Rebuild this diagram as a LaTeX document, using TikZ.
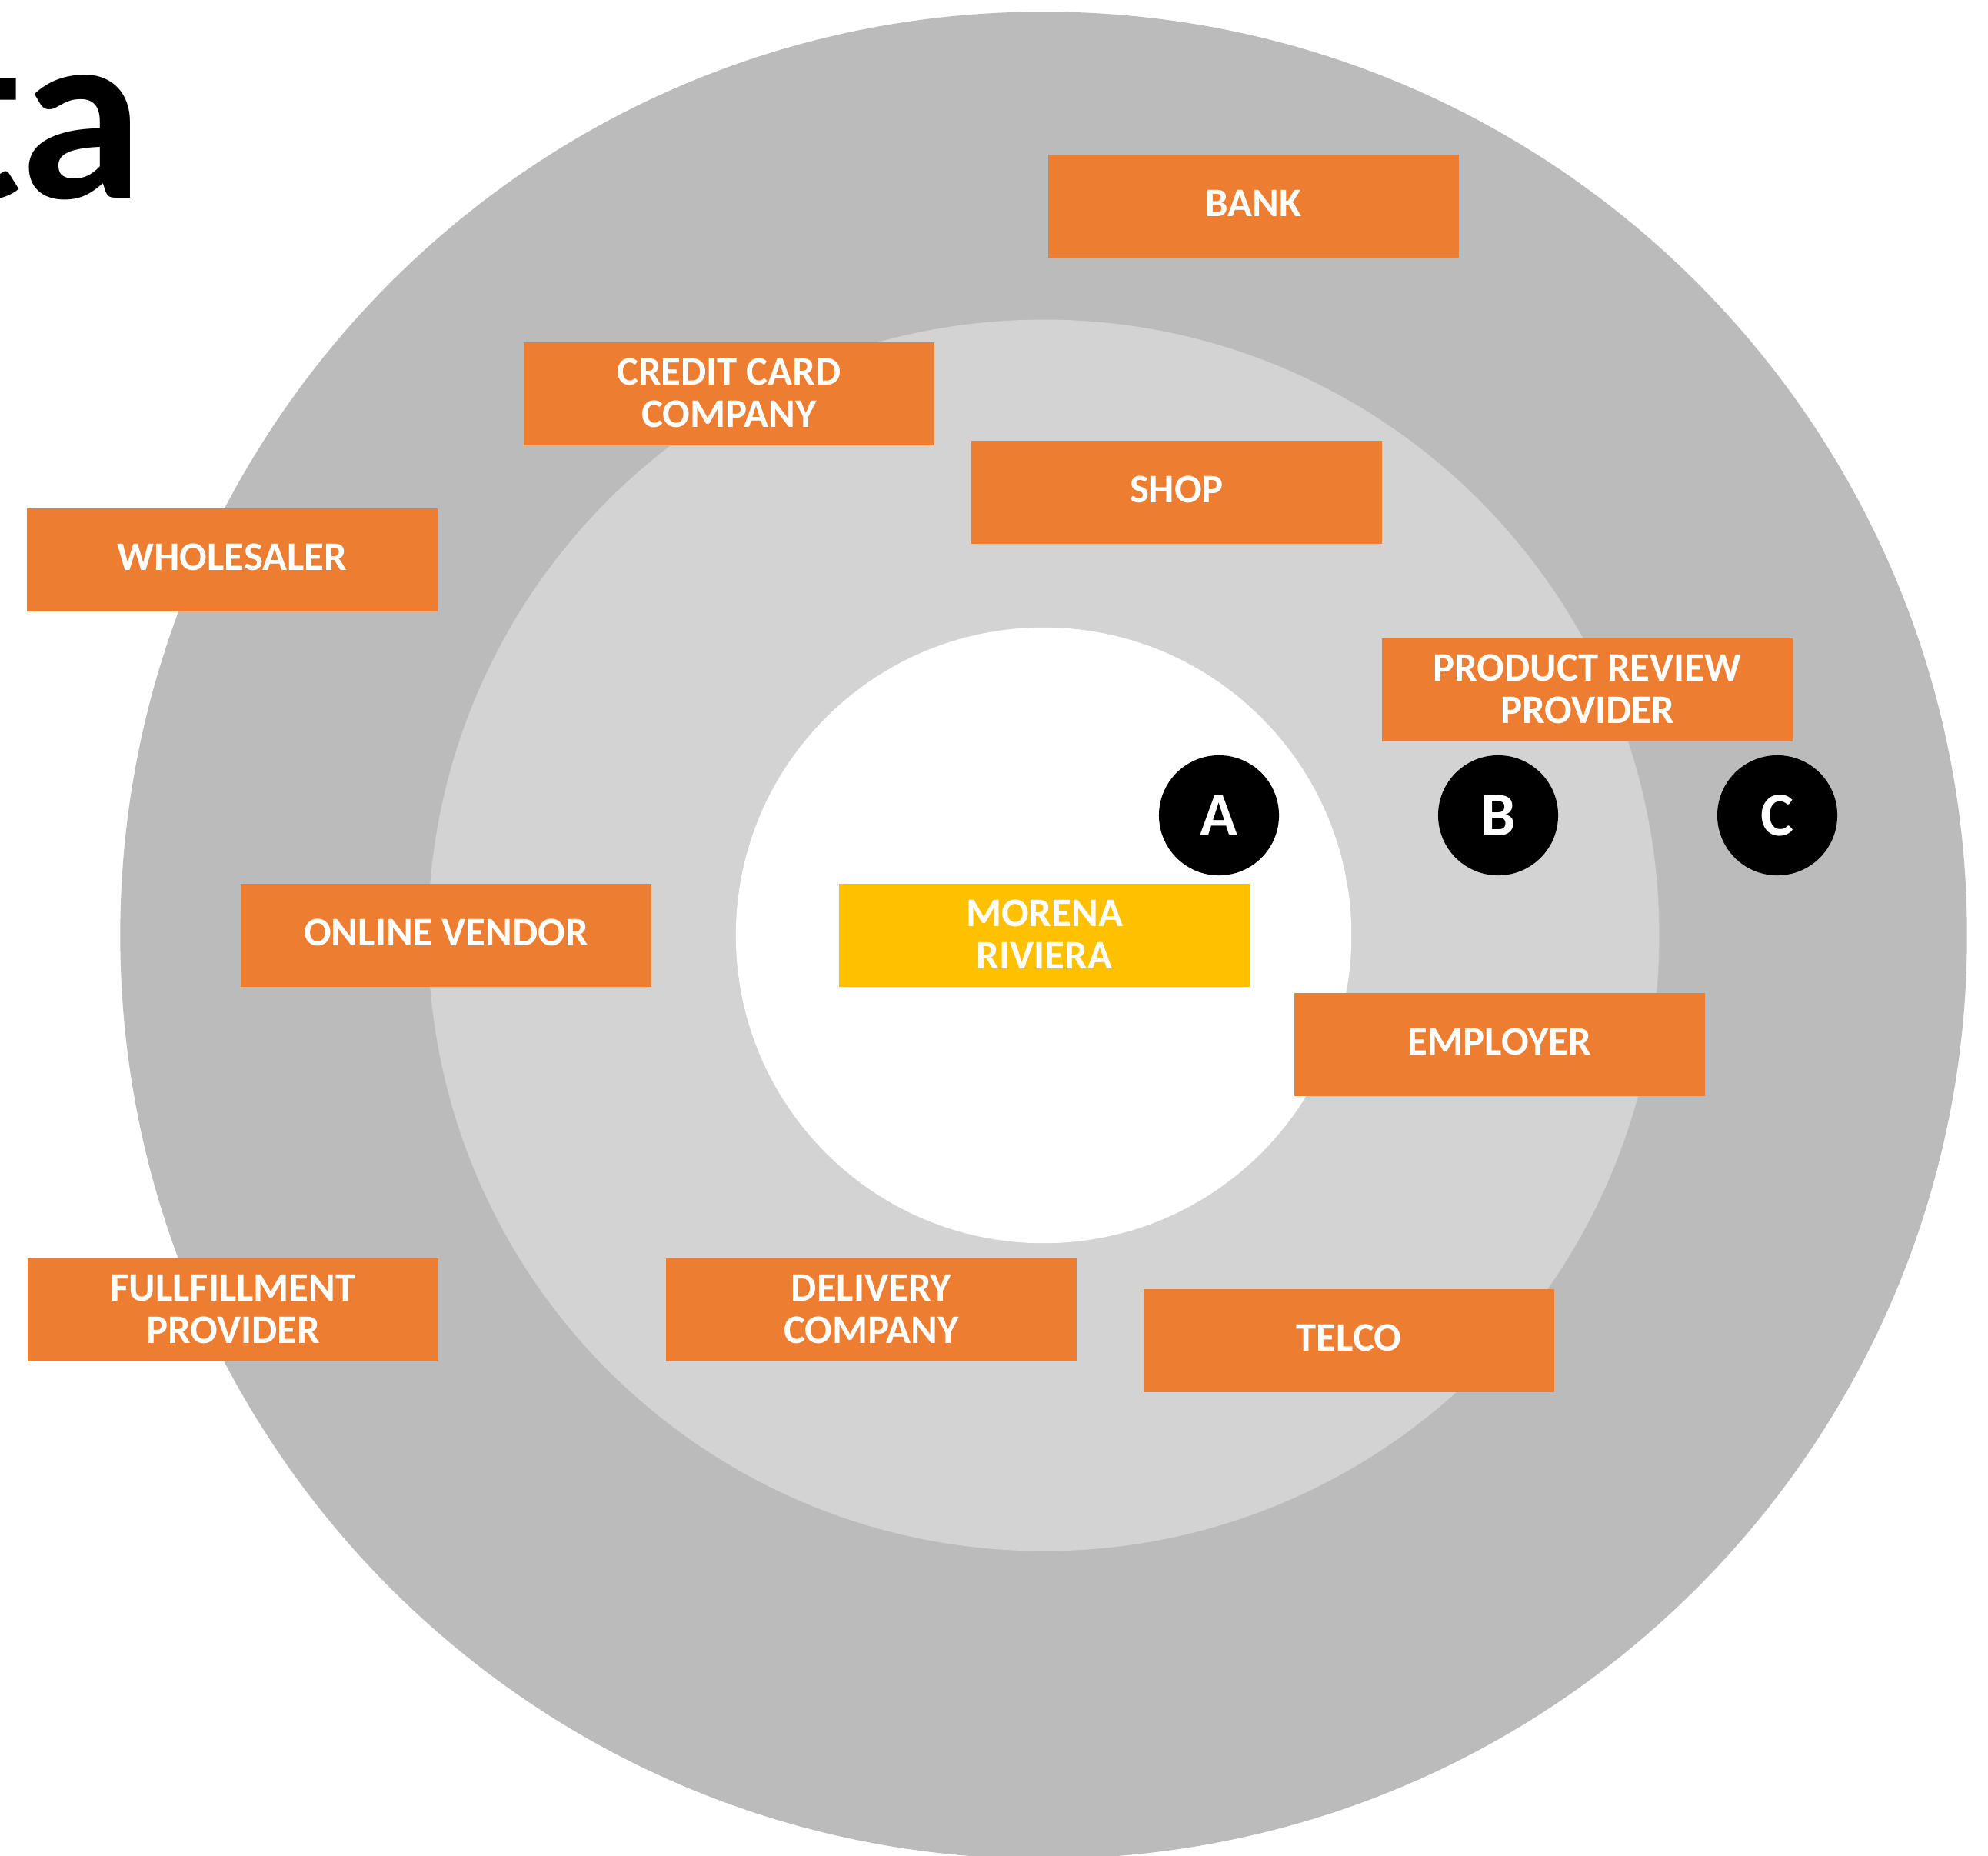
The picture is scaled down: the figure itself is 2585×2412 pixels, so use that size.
\documentclass[tikz,border=0pt]{standalone}
\usepackage{fontspec}
\setmainfont{Carlito}
\definecolor{ringouter}{RGB}{187,187,187}
\definecolor{ringmid}{RGB}{211,211,211}
\definecolor{actor}{RGB}{237,125,49}
\definecolor{subject}{RGB}{255,192,0}
\begin{document}
\begin{tikzpicture}[x=0.01cm,y=-0.01cm,
  actorbox/.style={fill=actor, minimum width=5.34cm, minimum height=1.34cm,
    inner sep=0pt, text=white, align=center, text depth=0.08cm,
    font=\fontsize{15}{15.6}\selectfont\bfseries},
  twoline/.style={text depth=0.02cm},
  subjectbox/.style={actorbox, fill=subject},
  ringlabel/.style={circle, fill=black, minimum size=1.56cm, inner sep=0pt,
    text=white, font=\fontsize{23}{23}\selectfont\bfseries}]
\useasboundingbox (0,0) rectangle (2585,2412);

% concentric rings
\fill[ringouter] (1357,1216) circle[radius=12cm];
\fill[ringmid]   (1357,1216) circle[radius=8cm];
\fill[white]     (1357,1216) circle[radius=4cm];

% heading fragment
\node[anchor=base east, inner sep=0pt, font=\fontsize{92}{92}\selectfont\bfseries] (title) at (187,258) {ta};

% actors
\node[actorbox] (bank)      at (1630,268)  {BANK};
\node[actorbox, twoline] (credit)    at (948,512)   {CREDIT CARD\\COMPANY};
\node[actorbox] (shop)      at (1530,640)  {SHOP};
\node[actorbox] (wholesale) at (302,728)   {WHOLESALER};
\node[actorbox, twoline] (review)    at (2064,897)  {PRODUCT REVIEW\\PROVIDER};
\node[actorbox] (vendor)    at (580,1216)  {ONLINE VENDOR};
\node[subjectbox, twoline] (person)  at (1358,1216) {MORENA\\RIVIERA};
\node[actorbox] (employer)  at (1950,1358) {EMPLOYER};
\node[actorbox, twoline] (fulfil)    at (303,1703)  {FULLFILLMENT\\PROVIDER};
\node[actorbox, twoline] (delivery)  at (1133,1703) {DELIVERY\\COMPANY};
\node[actorbox] (telco)     at (1754,1743) {TELCO};

% ring markers
\node[ringlabel] (ringA) at (1585,1060) {A};
\node[ringlabel] (ringB) at (1948,1060) {B};
\node[ringlabel] (ringC) at (2311,1060) {C};
\end{tikzpicture}
\end{document}
